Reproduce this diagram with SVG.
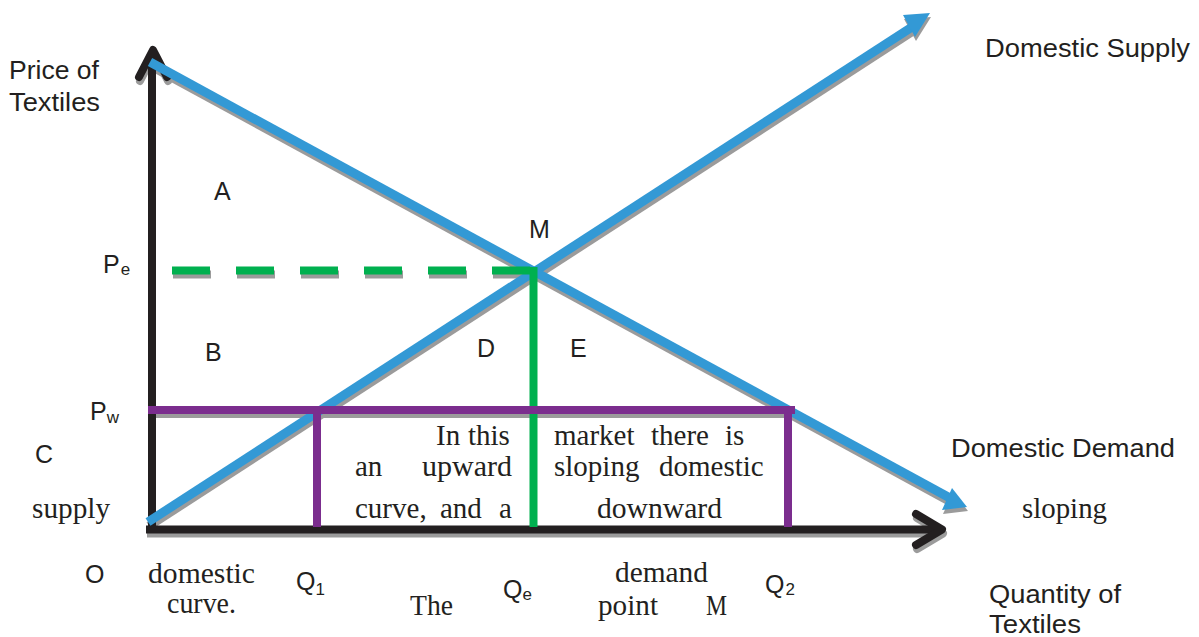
<svg xmlns="http://www.w3.org/2000/svg" width="1199" height="637" viewBox="0 0 1199 637">
<style>
.sh{stroke:#9b9b9b;fill:none}
.shf{fill:#9b9b9b}
.ax{stroke:#231f20;stroke-width:8;fill:none;stroke-linecap:butt}
.axh{stroke:#231f20;stroke-width:8;fill:none;stroke-linecap:round;stroke-linejoin:round}
.bl{stroke:#3399d5;stroke-width:9;fill:none}
.blf{fill:#3399d5}
.gr{stroke:#00b04f;stroke-width:8;fill:none}
.pu{stroke:#7b2d8e;stroke-width:8;fill:none}
.s{font-family:"Liberation Sans",Arial,sans-serif;font-size:25px;fill:#231f20}
.sub{font-family:"Liberation Sans",Arial,sans-serif;font-size:17px;fill:#231f20}
.r{font-family:"Liberation Serif","DejaVu Serif",serif;font-size:29px;fill:#231f20}
</style>
<rect width="1199" height="637" fill="#ffffff"/>
<g id="shadows" transform="translate(1,4)">
  <line class="sh" stroke-width="8" x1="146" y1="529.5" x2="940" y2="529.5"/>
  <polyline class="sh" stroke-width="8" stroke-linecap="round" stroke-linejoin="round" points="916,514 942,529.5 916,545"/>
  <polyline class="sh" stroke-width="8" stroke-linecap="round" stroke-linejoin="round" points="139,77 153,50 167,77"/>
  <line class="sh" stroke-width="9" x1="148" y1="522" x2="912" y2="27"/>
  <polygon class="shf" points="930,13 903,15 915,37"/>
  <line class="sh" stroke-width="9" x1="150" y1="62" x2="950" y2="498"/>
  <polygon class="shf" points="967,507 952,488 942,510"/>
  <line class="sh" stroke-width="8" x1="172" y1="270.5" x2="530" y2="270.5" stroke-dasharray="38 26"/>
  <line class="sh" stroke-width="8" x1="148" y1="410" x2="795" y2="410"/>
</g>
<g id="connectors">
  <line id="y-axis" class="ax" x1="152" y1="52" x2="152" y2="533"/>
  <polyline class="axh" points="139,77 153,50 167,77"/>
  <line id="x-axis" class="ax" x1="146" y1="529.5" x2="940" y2="529.5"/>
  <polyline class="axh" points="916,514 942,529.5 916,545"/>
  <line id="supply" class="bl" x1="148" y1="522" x2="912" y2="27"/>
  <polygon class="blf" points="930,13 903,15 915,37"/>
  <line id="demand" class="bl" x1="150" y1="62" x2="950" y2="498"/>
  <polygon class="blf" points="967,507 952,488 942,510"/>
  <line id="pe-line" class="gr" x1="172" y1="270.5" x2="530" y2="270.5" stroke-dasharray="38 26"/>
  <line id="qe-line" class="gr" x1="533.5" y1="267" x2="533.5" y2="527"/>
  <line id="pw-line" class="pu" x1="148" y1="410" x2="795" y2="410"/>
  <line id="q1-line" class="pu" x1="317" y1="406" x2="317" y2="527"/>
  <line id="q2-line" class="pu" x1="788" y1="406" x2="788" y2="527"/>
</g>
<g id="labels">
  <text class="s" x="9" y="79" textLength="90" lengthAdjust="spacingAndGlyphs">Price of</text>
  <text class="s" x="9" y="111" textLength="91" lengthAdjust="spacingAndGlyphs">Textiles</text>
  <text class="s" x="985" y="57" textLength="205" lengthAdjust="spacingAndGlyphs">Domestic Supply</text>
  <text class="s" x="951" y="457" textLength="224" lengthAdjust="spacingAndGlyphs">Domestic Demand</text>
  <text class="s" x="989" y="603" textLength="132" lengthAdjust="spacingAndGlyphs">Quantity of</text>
  <text class="s" x="989" y="633" textLength="92" lengthAdjust="spacingAndGlyphs">Textiles</text>
  <text class="s" x="214" y="200">A</text>
  <text class="s" x="529" y="238">M</text>
  <text class="s" x="103" y="273">P<tspan class="sub" dx="1" dy="2">e</tspan></text>
  <text class="s" x="205" y="361">B</text>
  <text class="s" x="477" y="357">D</text>
  <text class="s" x="570" y="357">E</text>
  <text class="s" x="90" y="420">P<tspan class="sub" dx="0" dy="3">w</tspan></text>
  <text class="s" x="35" y="463">C</text>
  <text class="s" x="85" y="583">O</text>
  <text class="s" x="296" y="590">Q<tspan class="sub" dx="0" dy="5">1</tspan></text>
  <text class="s" x="503" y="598">Q<tspan class="sub" dx="0" dy="2">e</tspan></text>
  <text class="s" x="765" y="593">Q<tspan class="sub" dx="1" dy="2">2</tspan></text>
  <text class="r" x="32" y="518" textLength="78" lengthAdjust="spacingAndGlyphs">supply</text>
  <text class="r" y="445"><tspan x="436">In</tspan> <tspan x="468">this</tspan></text>
  <text class="r" x="355" y="476">an</text>
  <text class="r" x="422" y="476" textLength="90" lengthAdjust="spacingAndGlyphs">upward</text>
  <text class="r" y="518"><tspan x="355">curve,</tspan> <tspan x="440">and</tspan> <tspan x="499">a</tspan></text>
  <text class="r" y="445"><tspan x="554">market</tspan> <tspan x="651">there</tspan> <tspan x="725">is</tspan></text>
  <text class="r" y="476"><tspan x="554">sloping</tspan> <tspan x="659">domestic</tspan></text>
  <text class="r" x="597" y="518" textLength="125" lengthAdjust="spacingAndGlyphs">downward</text>
  <text class="r" x="1022" y="518" textLength="85" lengthAdjust="spacingAndGlyphs">sloping</text>
  <text class="r" x="148" y="583" textLength="107" lengthAdjust="spacingAndGlyphs">domestic</text>
  <text class="r" x="167" y="613" textLength="69" lengthAdjust="spacingAndGlyphs">curve.</text>
  <text class="r" x="410" y="615" textLength="43" lengthAdjust="spacingAndGlyphs">The</text>
  <text class="r" x="615" y="582" textLength="93" lengthAdjust="spacingAndGlyphs">demand</text>
  <text class="r" x="598" y="615" textLength="60" lengthAdjust="spacingAndGlyphs">point</text>
  <text class="r" x="706" y="615" textLength="21" lengthAdjust="spacingAndGlyphs">M</text>
</g>
</svg>
